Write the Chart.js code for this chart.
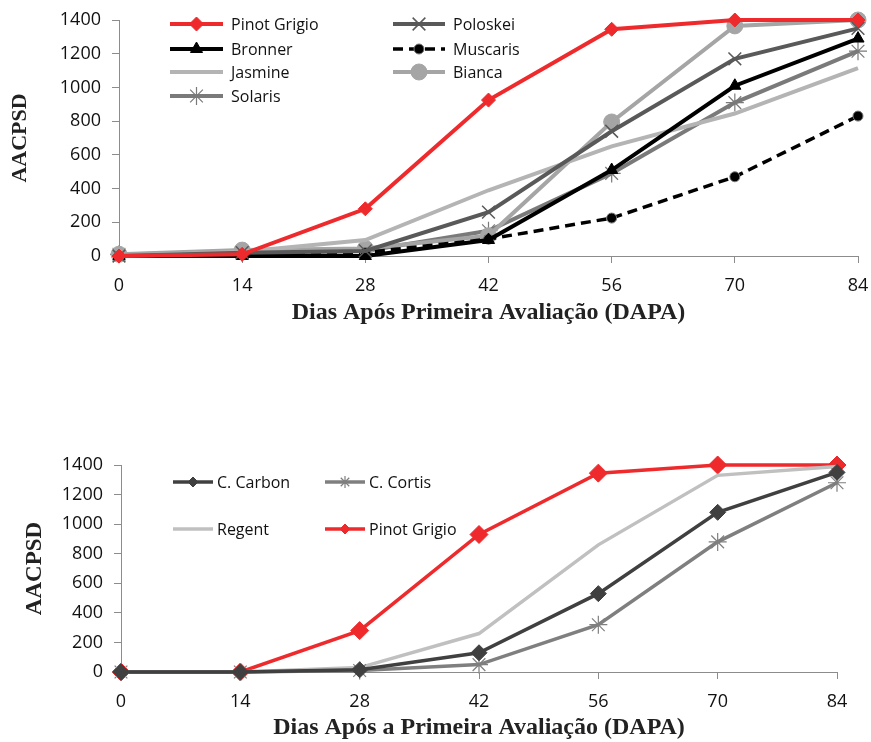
<!DOCTYPE html>
<html>
<head>
<meta charset="utf-8">
<script src="https://cdn.jsdelivr.net/npm/chart.js@4.4.1/dist/chart.umd.min.js"></script>
<style>
  html, body { margin: 0; padding: 0; background: #fff; }
  body { width: 871px; height: 742px; position: relative; overflow: hidden; }
  .box { position: absolute; left: 0; width: 871px; }
  #b1 { top: 0; height: 327px; }
  #b2 { top: 440px; height: 302px; }
</style>
</head>
<body>
<div class="box" id="b1"><canvas id="c1"></canvas></div>
<div class="box" id="b2"><canvas id="c2"></canvas></div>
<script>
// ---------- data ----------
const days = [0, 14, 28, 42, 56, 70, 84];
const yTicks = [0, 200, 400, 600, 800, 1000, 1200, 1400];

// top chart
const pinotGrigio1 = [0, 10, 280, 925, 1345, 1400, 1400];
const poloskei     = [0, 20, 30, 260, 740, 1170, 1350];
const bronner      = [0, 0, 0, 95, 510, 1010, 1290];
const muscaris     = [0, 10, 20, 100, 225, 470, 830];
const jasmine      = [0, 25, 95, 390, 650, 845, 1115];
const bianca       = [10, 35, 45, 120, 795, 1365, 1400];
const solaris      = [10, 20, 30, 150, 490, 910, 1215];

// bottom chart
const cCarbon      = [0, 0, 15, 130, 530, 1080, 1350];
const cCortis      = [0, 0, 10, 50, 320, 880, 1280];
const regent       = [0, 0, 30, 260, 860, 1330, 1390];
const pinotGrigio2 = [0, 0, 280, 930, 1345, 1400, 1400];

const xTitle1 = 'Dias Após Primeira Avaliação (DAPA)';
const xTitle2 = 'Dias Após a Primeira Avaliação (DAPA)';
const yTitle = 'AACPSD';

// ---------- helpers ----------
const RED = '#ee2a2c';
const TICKFONT = { family: 'Open Sans', size: 18 };
const LEGFONT = '16px "Open Sans"';

function pts(arr) { return arr.map((v, i) => ({ x: days[i], y: v })); }

function ds(label, data, o) {
  return Object.assign({
    label, data: pts(data), borderWidth: 4, tension: 0, fill: false, clip: false,
    pointRadius: 0, pointHoverRadius: 0, pointBorderWidth: 1
  }, o);
}

const legendPlugin = {
  id: 'gridLegend',
  afterDraw(chart, args, opts) {
    const ctx = chart.ctx;
    ctx.save();
    chart.data.datasets.forEach((d, i) => {
      const it = opts.items[i];
      if (!it) return;
      const [x0, x1, y, tx] = it;
      ctx.save();
      ctx.strokeStyle = d.borderColor;
      ctx.lineWidth = d.borderWidth;
      ctx.setLineDash(d.borderDash || []);
      ctx.beginPath(); ctx.moveTo(x0, y); ctx.lineTo(x1, y); ctx.stroke();
      ctx.setLineDash([]);
      if (d.pointRadius > 0) {
        ctx.fillStyle = d.pointBackgroundColor;
        ctx.strokeStyle = d.pointBorderColor;
        ctx.lineWidth = d.pointBorderWidth;
        Chart.helpers.drawPoint(ctx, {
          pointStyle: d.pointStyle, radius: d.legendRadius || d.pointRadius,
          rotation: 0, borderWidth: d.pointBorderWidth
        }, (x0 + x1) / 2, y);
      }
      ctx.restore();
      ctx.fillStyle = '#111';
      ctx.font = LEGFONT;
      ctx.textBaseline = 'middle';
      ctx.textAlign = 'left';
      ctx.fillText(d.label, tx, y + 1);
    });
    ctx.restore();
  }
};

function makeOptions(cfg) {
  return {
    responsive: true, maintainAspectRatio: false, animation: false,
    events: [],
    layout: { padding: { top: cfg.top, right: cfg.right, left: 0, bottom: 0 } },
    plugins: { legend: { display: false }, tooltip: { enabled: false },
      gridLegend: { items: cfg.legend } },
    scales: {
      x: {
        type: 'linear', min: 0, max: 84,
        afterBuildTicks(s) { s.ticks = days.map(v => ({ value: v })); },
        afterFit(s) { s.height = cfg.xh; s.paddingLeft = 0; s.paddingRight = 0; },
        grid: { drawOnChartArea: false, drawTicks: true, tickLength: 7, color: '#8c8c8c', lineWidth: 1 },
        border: { color: '#8c8c8c', width: 1 },
        ticks: { color: '#111', font: TICKFONT, padding: 12, maxRotation: 0, autoSkip: false,
          callback: v => String(v) },
        title: { display: true, text: cfg.xTitle, color: '#222',
          font: { family: 'Liberation Serif', size: 24, weight: 'bold' }, padding: { top: 0, bottom: 0 } }
      },
      y: {
        min: 0, max: 1400,
        afterBuildTicks(s) { s.ticks = yTicks.map(v => ({ value: v })); },
        afterFit(s) { s.width = cfg.yw; s.paddingTop = 0; s.paddingBottom = 0; },
        grid: { drawOnChartArea: false, drawTicks: true, tickLength: 7, color: '#8c8c8c', lineWidth: 1 },
        border: { color: '#8c8c8c', width: 1 },
        ticks: { color: '#111', font: TICKFONT, padding: 11, callback: v => String(v) },
        title: { display: true, text: yTitle, color: '#222',
          font: { family: 'Liberation Serif', size: cfg.yts, weight: 'bold' }, padding: { top: cfg.ytp, bottom: 0 } }
      }
    }
  };
}

// ---------- chart 1 ----------
new Chart(document.getElementById('c1'), {
  type: 'line',
  data: { datasets: [
    ds('Pinot Grigio', pinotGrigio1, { borderColor: RED, pointRadius: 7, pointStyle: 'rectRot', pointBackgroundColor: RED, pointBorderColor: RED, legendRadius: 7 }),
    ds('Poloskei', poloskei, { borderColor: '#595959', pointRadius: 9, pointStyle: 'crossRot', pointBackgroundColor: '#595959', pointBorderColor: '#595959', pointBorderWidth: 1.5 }),
    ds('Bronner', bronner, { borderColor: '#000', pointRadius: 7, pointStyle: 'triangle', pointBackgroundColor: '#000', pointBorderColor: '#000' }),
    ds('Muscaris', muscaris, { borderColor: '#000', borderDash: [10, 6], borderWidth: 3.5, pointRadius: 5, pointStyle: 'circle', pointBackgroundColor: '#000', pointBorderColor: '#777' }),
    ds('Jasmine', jasmine, { borderColor: '#b4b4b4' }),
    ds('Bianca', bianca, { borderColor: '#a5a5a5', pointRadius: 8, pointStyle: 'circle', pointBackgroundColor: '#a5a5a5', pointBorderColor: '#a5a5a5' }),
    ds('Solaris', solaris, { borderColor: '#7a7a7a', pointRadius: 9, pointStyle: 'star', pointBackgroundColor: '#7a7a7a', pointBorderColor: '#7a7a7a', pointBorderWidth: 1.2 })
  ] },
  options: makeOptions({
    top: 20, right: 13, xh: 71, yw: 119, ytp: 7, yts: 22, xTitle: xTitle1,
    legend: [
      [170, 223, 24, 231], [393, 445, 24, 453],
      [170, 223, 49, 231], [393, 445, 49, 453],
      [170, 223, 72, 231], [393, 445, 72, 453],
      [170, 223, 96, 231]
    ]
  }),
  plugins: [legendPlugin]
});

// ---------- chart 2 ----------
const ds2 = (l, d, o) => ds(l, d, Object.assign({ borderWidth: 3.5 }, o));
new Chart(document.getElementById('c2'), {
  type: 'line',
  data: { datasets: [
    ds2('C. Carbon', cCarbon, { borderColor: '#404040', pointRadius: 8, pointStyle: 'rectRot', pointBackgroundColor: '#404040', pointBorderColor: '#404040', legendRadius: 5 }),
    ds2('C. Cortis', cCortis, { borderColor: '#7f7f7f', pointRadius: 9, pointStyle: 'star', pointBackgroundColor: '#7f7f7f', pointBorderColor: '#7f7f7f', pointBorderWidth: 1.2, legendRadius: 6 }),
    ds2('Regent', regent, { borderColor: '#c0c0c0' }),
    ds2('Pinot Grigio', pinotGrigio2, { borderColor: RED, pointRadius: 9, pointStyle: 'rectRot', pointBackgroundColor: RED, pointBorderColor: RED, legendRadius: 5 })
  ] },
  options: makeOptions({
    top: 25, right: 34, xh: 70, yw: 121, ytp: 21, yts: 23, xTitle: xTitle2,
    legend: [
      [173, 213, 42, 217], [325, 365, 42, 369],
      [173, 213, 89, 217], [325, 365, 89, 369]
    ]
  }),
  plugins: [legendPlugin]
});
</script>
</body>
</html>
